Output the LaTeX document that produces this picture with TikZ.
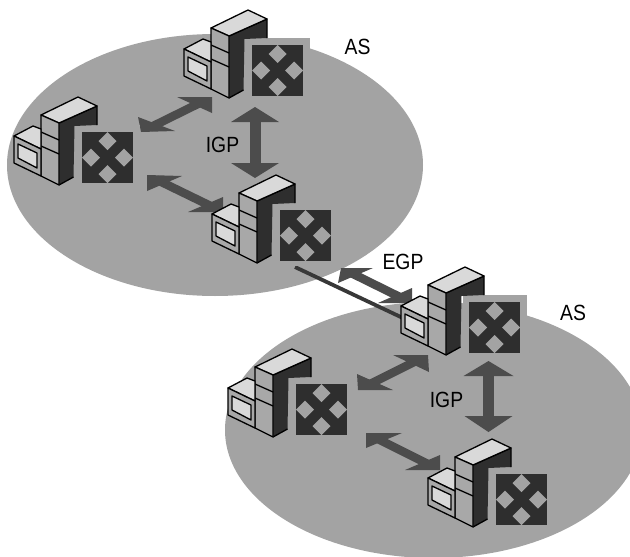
\documentclass[tikz,border=0pt]{standalone}
\usepackage{fontspec}
\setmainfont[FakeStretch=0.88]{Liberation Sans}
\definecolor{areafill}{gray}{0.64}
\definecolor{boxlight}{gray}{0.85}
\definecolor{boxmid}{gray}{0.66}
\definecolor{boxdark}{gray}{0.18}
\definecolor{arrowfill}{gray}{0.3}
\tikzset{
  x=1pt,y=-1pt,
  area/.style={fill=areafill,draw=none},
  edgeline/.style={draw=black,line width=1.3pt,line join=round},
  tag/.style={font=\fontsize{22}{22}\selectfont,text=black,inner sep=0pt},
  shaft/.style={draw=arrowfill,line width=8.5pt,shorten >=10pt,shorten <=10pt},
  vshaft/.style={draw=arrowfill,line width=11pt,shorten >=10pt,shorten <=10pt},
  head/.style={fill=arrowfill,draw=none},
  wire/.style={draw=black!78,line width=3.8pt},
  device/.pic={
    % backing square
    \fill[areafill] (17,-60) rectangle (81,3);
    % cross
    \fill[boxdark] (23,-53) rectangle (74,-2);
    \fill[areafill] (48.5,-53) -- (39.5,-44) -- (48.5,-35) -- (57.5,-44) -- cycle;
    \fill[areafill] (48.5,-2) -- (39.5,-11) -- (48.5,-20) -- (57.5,-11) -- cycle;
    \fill[areafill] (23,-27.5) -- (32,-36.5) -- (41,-27.5) -- (32,-18.5) -- cycle;
    \fill[areafill] (74,-27.5) -- (65,-36.5) -- (56,-27.5) -- (65,-18.5) -- cycle;
    % tower right face
    \fill[boxdark] (0,-62) -- (38,-79) -- (38,-60) -- (15.5,-59) -- (14.5,-8) -- (0,0) -- cycle;
    \draw[edgeline] (0,-62) -- (38,-79) -- (38,-60);
    \draw[edgeline] (14.5,-8) -- (0,0);
    % tower top
    \filldraw[edgeline,fill=boxlight] (-18,-70) -- (19,-88) -- (38,-79) -- (0,-62) -- cycle;
    % tower front
    \filldraw[edgeline,fill=boxmid] (-18,-70) -- (0,-62) -- (0,0) -- (-18,-9) -- cycle;
    \draw[edgeline] (-18,-53) -- (0,-45);
    \draw[edgeline] (-18,-39) -- (0,-31);
    % small box top
    \filldraw[edgeline,fill=boxlight] (-45,-49) -- (-26,-59) -- (-18,-56) -- (-18,-36) -- cycle;
    % small box front
    \filldraw[edgeline,fill=boxmid] (-45,-49) -- (-18,-36) -- (-18,-9) -- (-45,-22) -- cycle;
    % window
    \filldraw[edgeline,fill=boxlight] (-41,-41) -- (-22,-32) -- (-22,-17) -- (-41,-27) -- cycle;
  }
}
\begin{document}
\begin{tikzpicture}
\useasboundingbox (0,0) rectangle (630,557);
\fill[white] (0,0) rectangle (630,557);
\begin{scope}
\clip (0,0) rectangle (630,557);
\fill[area] (215,165) ellipse [x radius=208, y radius=131];
\fill[area] (433.5,430) ellipse [x radius=208.5, y radius=128];
\end{scope}

\coordinate (a1) at (141,132);
\coordinate (a2) at (212,97);
\coordinate (b1) at (255,107);
\coordinate (b2) at (255,178);
\coordinate (c1) at (147,175);
\coordinate (c2) at (223,212);
\coordinate (d1) at (358,390);
\coordinate (d2) at (428,355);
\coordinate (e1) at (488.5,361);
\coordinate (e2) at (488.5,432);
\coordinate (f1) at (366,433);
\coordinate (f2) at (440,470);
\coordinate (g1) at (341,268);
\coordinate (g2) at (412,303);
\coordinate (w1) at (295,267);
\coordinate (w2) at (405,319);

\draw[wire] (w1) -- (w2);

\draw[shaft] (a1) -- (a2);
\fill[head] (a1) -- +(34,-1) -- +(-3,-15) -- cycle;
\fill[head] (a2) -- +(-35,0) -- +(0,16) -- cycle;

\draw[vshaft] (b1) -- (b2);
\fill[head] (b1) -- +(24,15) -- +(-24,15) -- cycle;
\fill[head] (b2) -- +(24,-15) -- +(-24,-15) -- cycle;

\draw[shaft] (c1) -- (c2);
\fill[head] (c1) -- +(35,1) -- +(0,16) -- cycle;
\fill[head] (c2) -- +(-35,0) -- +(0,-15) -- cycle;

\draw[shaft] (d1) -- (d2);
\fill[head] (d1) -- +(35,0) -- +(-1,-16) -- cycle;
\fill[head] (d2) -- +(-35,0) -- +(1,17) -- cycle;

\draw[vshaft] (e1) -- (e2);
\fill[head] (e1) -- +(25,15) -- +(-25,15) -- cycle;
\fill[head] (e2) -- +(24,-16) -- +(-24,-16) -- cycle;

\draw[shaft] (f1) -- (f2);
\fill[head] (f1) -- +(36,0) -- +(0,15) -- cycle;
\fill[head] (f2) -- +(-35,0) -- +(0,-15) -- cycle;

\draw[shaft] (g1) -- (g2);
\fill[head] (g1) -- +(32,0) -- +(-3,15) -- cycle;
\fill[head] (g2) -- +(-34,0) -- +(0,-15) -- cycle;

\pic (devA) at (229,98) {device};
\pic (devB) at (59,185) {device};
\pic (devC) at (257,263) {device};
\pic (devD) at (446,355) {device};
\pic (devE) at (273,437) {device};
\pic (devF) at (473,527) {device};

\node[tag] (as1) at (357.5,47) {AS};
\node[tag] (igp1) at (222.5,145) {IGP};
\node[tag] (egp) at (403,262) {EGP};
\node[tag] (as2) at (573,313) {AS};
\node[tag] (igp2) at (446.5,400) {IGP};
\end{tikzpicture}
\end{document}
